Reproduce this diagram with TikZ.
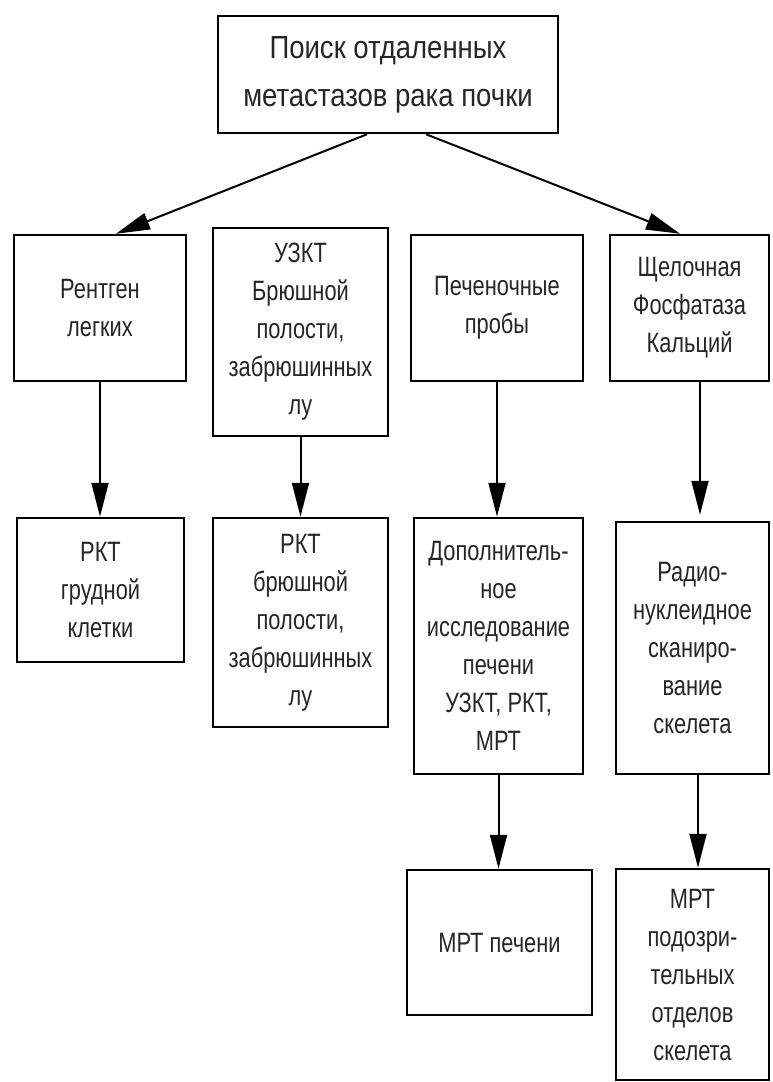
\documentclass[tikz,border=0pt]{standalone}
\usepackage{fontspec}
\setmainfont{Liberation Sans}
\newfontfamily\narrow{Liberation Sans}[FakeStretch=0.78]
\newfontfamily\narrowtop{Liberation Sans}[FakeStretch=0.86]
\usetikzlibrary{arrows.meta}
\begin{document}
\begin{tikzpicture}[x=1pt,y=-1pt,
  box/.style={draw=black, line width=2.5pt, inner sep=0pt, align=center,
    text=black!85, font=\narrow\fontsize{28}{38}\selectfont},
  topbox/.style={box, font=\narrowtop\fontsize{32}{48}\selectfont},
  arr/.style={line width=2pt, -{Triangle[length=34pt,width=17pt]}}]
\useasboundingbox[fill=white] (0,0) rectangle (773,1082);

\node[topbox, minimum width=340pt, minimum height=117pt] (top) at (388,74.5)
  {Поиск отдаленных\\метастазов рака почки};

\node[box, minimum width=172pt, minimum height=146pt] (r2a) at (100,308)
  {Рентген\\легких};
\node[box, minimum width=175pt, minimum height=208pt] (r2b) at (300.5,332)
  {УЗКТ\\Брюшной\\полости,\\забрюшинных\\лу};
\node[box, minimum width=172pt, minimum height=146pt] (r2c) at (497,308)
  {Печеночные\\пробы};
\node[box, minimum width=159pt, minimum height=146pt] (r2d) at (689.5,308)
  {Щелочная\\Фосфатаза\\Кальций};

\node[box, minimum width=167pt, minimum height=144pt] (r3a) at (100.5,590)
  {РКТ\\грудной\\клетки};
\node[box, minimum width=175pt, minimum height=209pt] (r3b) at (300.5,622.5)
  {РКТ\\брюшной\\полости,\\забрюшинных\\лу};
\node[box, minimum width=169pt, minimum height=256pt] (r3c) at (498.5,646)
  {Дополнитель-\\ное\\исследование\\печени\\УЗКТ, РКТ,\\МРТ};
\node[box, minimum width=153pt, minimum height=252pt] (r3d) at (692.5,648)
  {Радио-\\нуклеидное\\сканиро-\\вание\\скелета};

\node[box, minimum width=185pt, minimum height=145pt] (r4c) at (499.5,942.5)
  {МРТ печени};
\node[box, minimum width=153pt, minimum height=211pt] (r4d) at (692.5,974.5)
  {МРТ\\подозри-\\тельных\\отделов\\скелета};

\draw[arr] ([xshift=-21pt]top.south) -- ([xshift=16pt]r2a.north);
\draw[arr] ([xshift=38pt]top.south) -- ([xshift=-9.5pt]r2d.north);

\draw[arr] (r2a.south) -- (r2a.south |- r3a.north);
\draw[arr] (r2b.south) -- (r2b.south |- r3b.north);
\draw[arr] (r2c.south) -- (r2c.south |- r3c.north);
\draw[arr, shorten >=6pt] ([xshift=10.5pt]r2d.south) -- ([xshift=7.5pt]r3d.north);

\draw[arr] (r3c.south) -- (r3c.south |- r4c.north);
\draw[arr] ([xshift=5.5pt]r3d.south) -- ([xshift=5.5pt]r4d.north);
\end{tikzpicture}
\end{document}
